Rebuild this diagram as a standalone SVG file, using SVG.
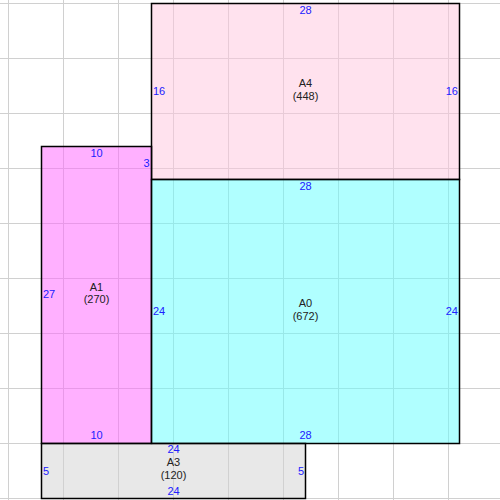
<svg xmlns="http://www.w3.org/2000/svg" width="500" height="500" viewBox="0 0 500 500">
<style>
.r{stroke:none;fill-opacity:0.5}
.b{fill:none;stroke:#000;stroke-width:1.5}
.g{stroke:#d0d0d0;stroke-width:1}
text{font-family:"Liberation Sans",Arial,sans-serif;font-size:11px}
.d{fill:#2020ff}
.n{fill:#222;text-anchor:middle}
.m{text-anchor:middle}
.e{text-anchor:end}
</style>
<rect width="500" height="500" fill="#fff"/>
<g id="grid" class="g">
<line x1="8.5" y1="0" x2="8.5" y2="500"/>
<line x1="63.5" y1="0" x2="63.5" y2="500"/>
<line x1="118.5" y1="0" x2="118.5" y2="500"/>
<line x1="173.5" y1="0" x2="173.5" y2="500"/>
<line x1="228.5" y1="0" x2="228.5" y2="500"/>
<line x1="283.5" y1="0" x2="283.5" y2="500"/>
<line x1="338.5" y1="0" x2="338.5" y2="500"/>
<line x1="393.5" y1="0" x2="393.5" y2="500"/>
<line x1="448.5" y1="0" x2="448.5" y2="500"/>
<line x1="0" y1="3.5" x2="500" y2="3.5"/>
<line x1="0" y1="58.5" x2="500" y2="58.5"/>
<line x1="0" y1="113.5" x2="500" y2="113.5"/>
<line x1="0" y1="168.5" x2="500" y2="168.5"/>
<line x1="0" y1="223.5" x2="500" y2="223.5"/>
<line x1="0" y1="278.5" x2="500" y2="278.5"/>
<line x1="0" y1="333.5" x2="500" y2="333.5"/>
<line x1="0" y1="388.5" x2="500" y2="388.5"/>
<line x1="0" y1="443.5" x2="500" y2="443.5"/>
<line x1="0" y1="498.5" x2="500" y2="498.5"/>
</g>
<g id="A4">
<rect class="r" x="151.5" y="3.5" width="308" height="176" fill="#ffc5dd"/>
<rect class="b" x="151.5" y="3.5" width="308" height="176"/>
<text class="d m" x="305.5" y="14">28</text>
<text class="d" x="153" y="95">16</text>
<text class="d e" x="458" y="95">16</text>
<text class="n" x="305.5" y="87">A4</text>
<text class="n" x="305.5" y="100">(448)</text>
</g>
<g id="A1">
<rect class="r" x="41.5" y="146.5" width="110" height="297" fill="#ff61ff"/>
<rect class="b" x="41.5" y="146.5" width="110" height="297"/>
<text class="d m" x="96.5" y="157">10</text>
<text class="d e" x="149.5" y="167">3</text>
<text class="d" x="43" y="298">27</text>
<text class="d m" x="96.5" y="439">10</text>
<text class="n" x="96.5" y="291">A1</text>
<text class="n" x="96.5" y="303">(270)</text>
</g>
<g id="A0">
<rect class="r" x="151.5" y="179.5" width="308" height="264" fill="#61ffff"/>
<rect class="b" x="151.5" y="179.5" width="308" height="264"/>
<text class="d m" x="305.5" y="190">28</text>
<text class="d" x="153" y="315">24</text>
<text class="d e" x="458" y="315">24</text>
<text class="d m" x="305.5" y="439">28</text>
<text class="n" x="305.5" y="307">A0</text>
<text class="n" x="305.5" y="320">(672)</text>
</g>
<g id="A3">
<rect class="r" x="41.5" y="443.5" width="264" height="55" fill="#d1d1d1"/>
<rect class="b" x="41.5" y="443.5" width="264" height="55"/>
<text class="d m" x="173.5" y="453">24</text>
<text class="d" x="43" y="475">5</text>
<text class="d e" x="304" y="475">5</text>
<text class="d m" x="173.5" y="495">24</text>
<text class="n" x="173.5" y="466">A3</text>
<text class="n" x="173.5" y="479">(120)</text>
</g>
</svg>
